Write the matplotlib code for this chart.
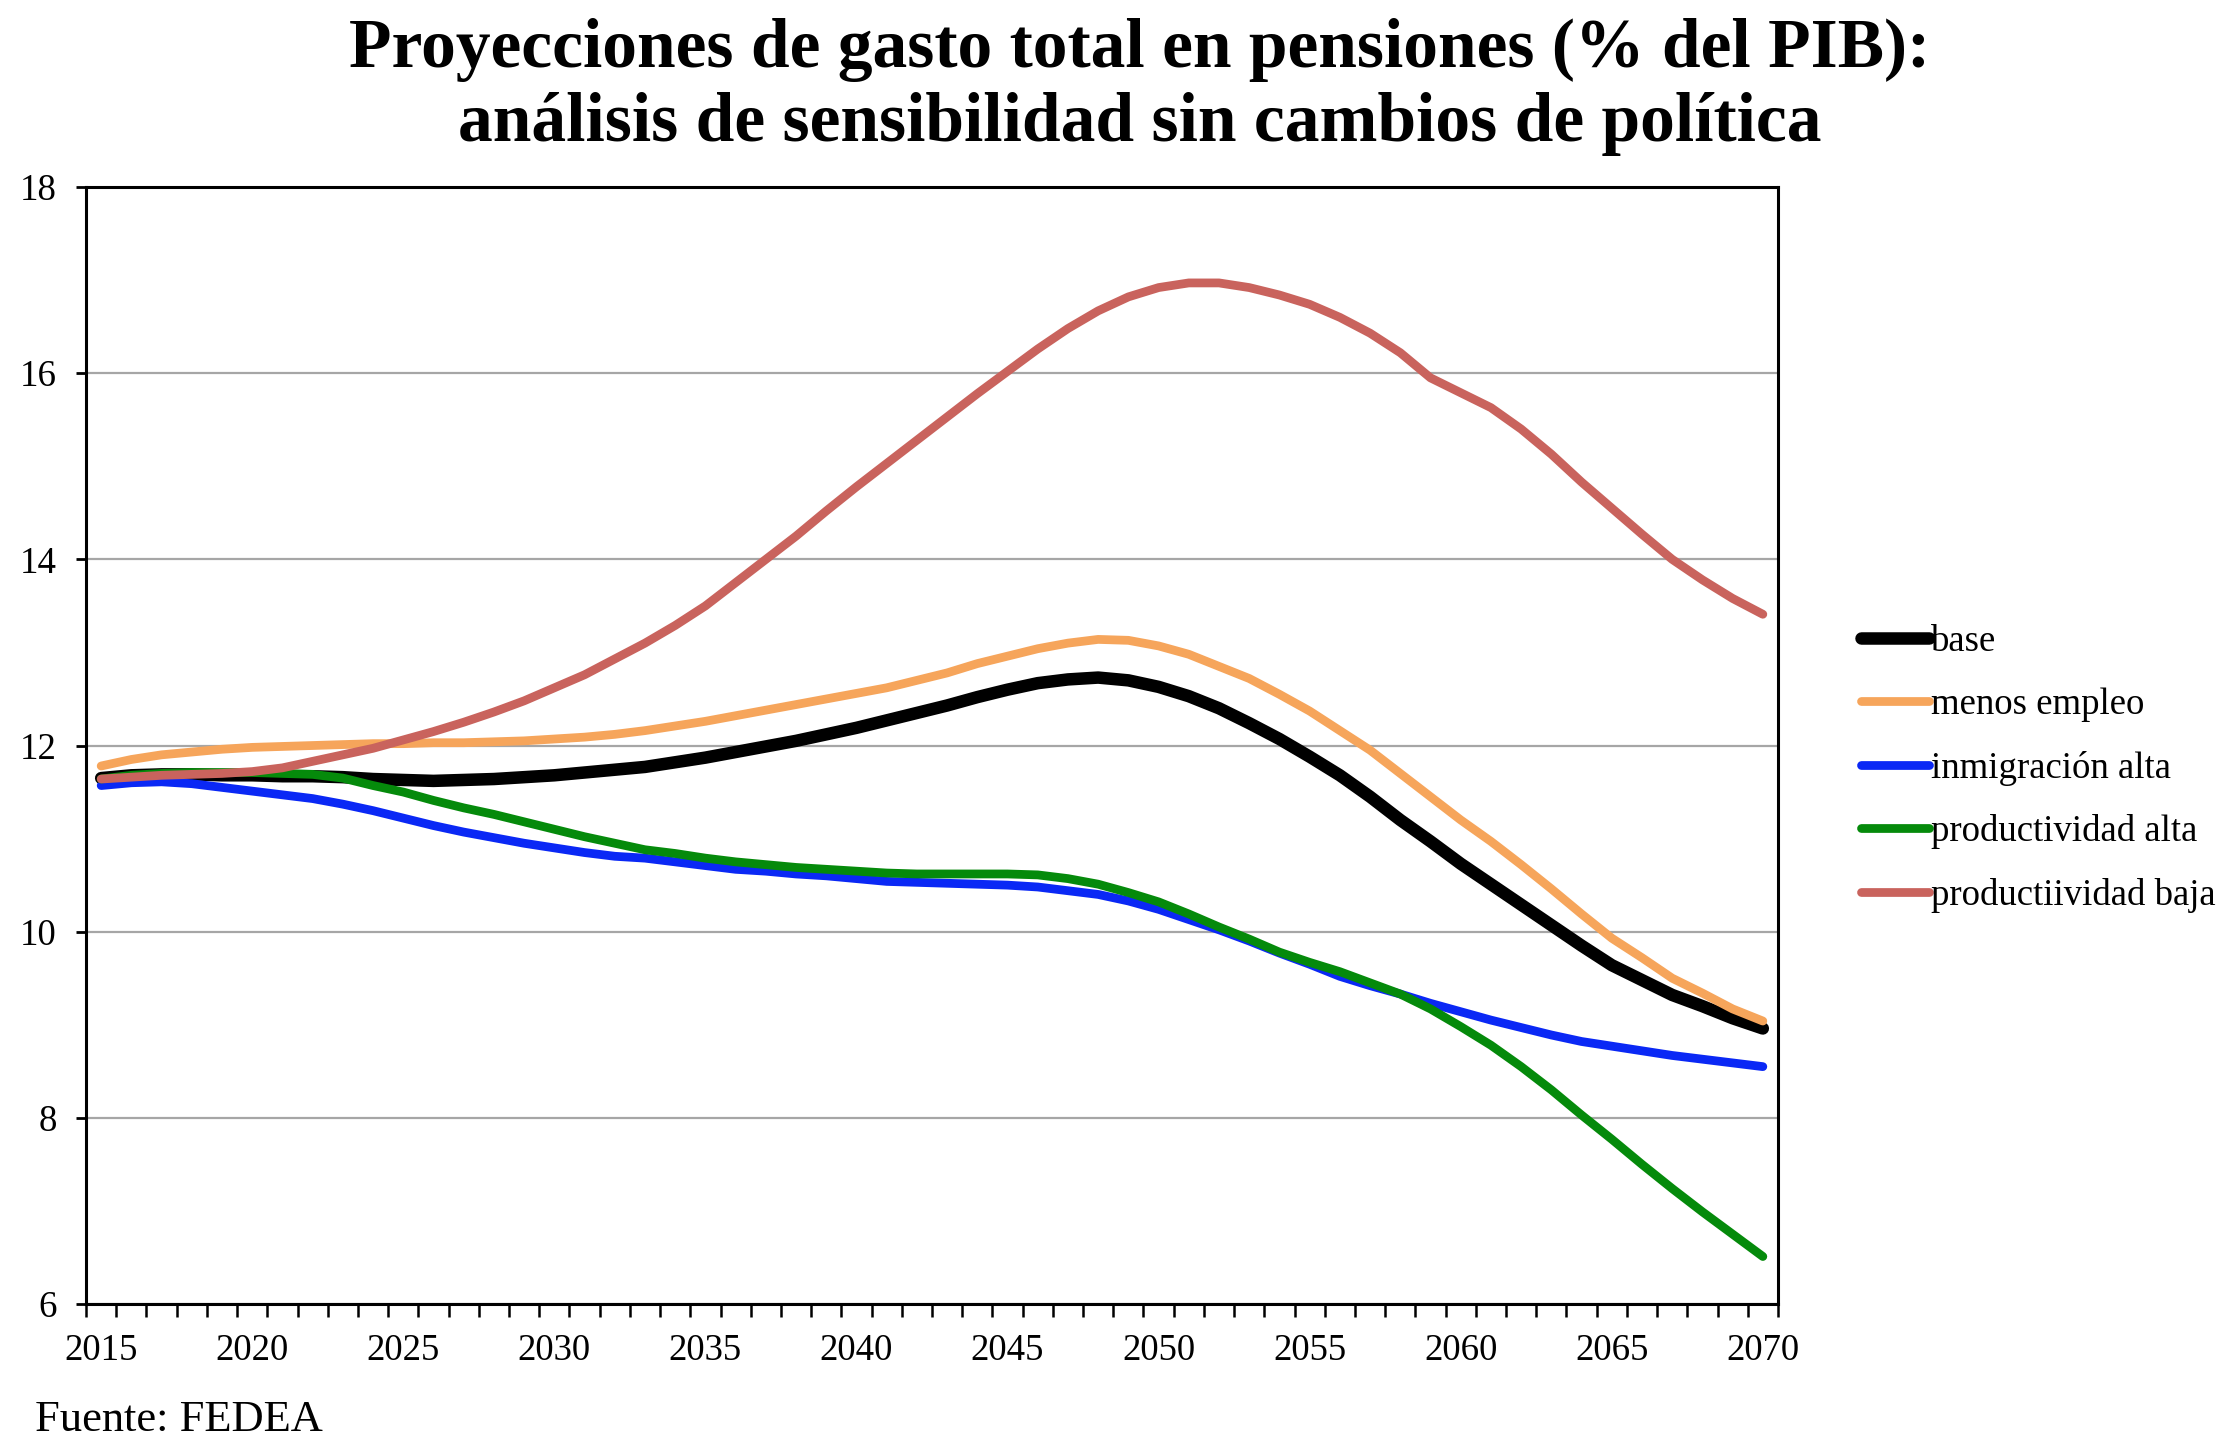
import numpy as np
import matplotlib
matplotlib.use('Agg')
import matplotlib.pyplot as plt

years = list(range(2015, 2071))

base = [11.65, 11.68, 11.69, 11.69, 11.68, 11.68, 11.67, 11.67, 11.66, 11.64,
        11.63, 11.62, 11.63, 11.64, 11.66, 11.68, 11.71, 11.74, 11.77, 11.82,
        11.87, 11.93, 11.99, 12.05, 12.12, 12.19, 12.27, 12.35, 12.43, 12.52,
        12.60, 12.67, 12.71, 12.73, 12.70, 12.63, 12.53, 12.40, 12.24, 12.07,
        11.88, 11.68, 11.45, 11.20, 10.97, 10.73, 10.51, 10.29, 10.07, 9.85,
        9.64, 9.48, 9.32, 9.20, 9.07, 8.96]

menos_empleo = [11.78, 11.85, 11.90, 11.93, 11.96, 11.98, 11.99, 12.00, 12.01, 12.02,
                12.02, 12.03, 12.03, 12.04, 12.05, 12.07, 12.09, 12.12, 12.16, 12.21,
                12.26, 12.32, 12.38, 12.44, 12.50, 12.56, 12.62, 12.70, 12.78, 12.88,
                12.96, 13.04, 13.10, 13.14, 13.13, 13.07, 12.98, 12.85, 12.72, 12.55,
                12.37, 12.16, 11.95, 11.70, 11.45, 11.20, 10.97, 10.72, 10.46, 10.19,
                9.93, 9.72, 9.50, 9.34, 9.17, 9.04]

inmigracion_alta = [11.57, 11.60, 11.61, 11.59, 11.55, 11.51, 11.47, 11.43, 11.37, 11.30,
                    11.22, 11.14, 11.07, 11.01, 10.95, 10.90, 10.85, 10.81, 10.79, 10.75,
                    10.71, 10.67, 10.65, 10.62, 10.60, 10.57, 10.54, 10.53, 10.52, 10.51,
                    10.50, 10.48, 10.44, 10.40, 10.33, 10.24, 10.13, 10.02, 9.90, 9.77,
                    9.65, 9.52, 9.42, 9.33, 9.23, 9.14, 9.05, 8.97, 8.89, 8.82,
                    8.77, 8.72, 8.67, 8.63, 8.59, 8.55]

productividad_alta = [11.64, 11.68, 11.70, 11.71, 11.71, 11.71, 11.70, 11.69, 11.65, 11.57,
                      11.50, 11.41, 11.33, 11.26, 11.18, 11.10, 11.02, 10.95, 10.88, 10.84,
                      10.79, 10.75, 10.72, 10.69, 10.67, 10.65, 10.63, 10.62, 10.62, 10.62,
                      10.62, 10.61, 10.57, 10.51, 10.42, 10.32, 10.19, 10.05, 9.92, 9.78,
                      9.67, 9.57, 9.45, 9.33, 9.17, 8.98, 8.78, 8.55, 8.30, 8.03,
                      7.77, 7.50, 7.24, 6.99, 6.75, 6.51]

productividad_baja = [11.64, 11.66, 11.68, 11.69, 11.70, 11.72, 11.76, 11.83, 11.90, 11.97,
                      12.06, 12.15, 12.25, 12.36, 12.48, 12.62, 12.76, 12.93, 13.10, 13.29,
                      13.50, 13.75, 14.00, 14.25, 14.52, 14.78, 15.03, 15.28, 15.53, 15.78,
                      16.02, 16.26, 16.48, 16.67, 16.82, 16.92, 16.97, 16.97, 16.92, 16.84,
                      16.74, 16.60, 16.43, 16.22, 15.95, 15.79, 15.63, 15.40, 15.13, 14.83,
                      14.55, 14.27, 14.00, 13.78, 13.58, 13.41]

series = [
    ('base', base, '#000000', 9.0),
    ('menos empleo', menos_empleo, '#F6A55B', 6.3),
    ('inmigración alta', inmigracion_alta, '#0A28F5', 6.3),
    ('productividad alta', productividad_alta, '#058A0B', 6.3),
    ('productiividad baja', productividad_baja, '#C9635D', 6.3),
]

serif = ['Liberation Serif', 'DejaVu Serif']

fig = plt.figure(figsize=(22.18, 14.5), dpi=100)
ax = fig.add_axes([0.0388, 0.1007, 0.7628, 0.7703])

for label, vals, color, lw in series:
    ax.plot(years, vals, color=color, linewidth=lw, label=label,
            solid_capstyle='round', solid_joinstyle='round')

ax.set_xlim(2014.5, 2070.5)
ax.set_ylim(6, 18)
ax.set_yticks(range(6, 19, 2))
ax.set_xticks(range(2015, 2071, 5))
ax.set_xticks(np.arange(2014.5, 2071, 1), minor=True)
ax.tick_params(axis='x', which='major', length=0, pad=21, labelsize=26.5)
ax.tick_params(axis='x', which='minor', length=9, width=1.8, direction='out')
ax.tick_params(axis='y', which='major', length=7, width=2, pad=14, labelsize=26.5)
for lab in ax.get_xticklabels() + ax.get_yticklabels():
    lab.set_family(serif)

ax.yaxis.grid(True, color='#a6a6a6', linewidth=1.6)
ax.set_axisbelow(True)
for sp in ax.spines.values():
    sp.set_linewidth(2.2)
    sp.set_color('black')

leg = fig.legend(loc='center left', bbox_to_anchor=(0.824, 0.47), frameon=False,
                 prop={'family': serif, 'size': 26.5}, handlelength=1.85,
                 handletextpad=0.05, labelspacing=0.78)

fig.text(0.514, 0.954, 'Proyecciones de gasto total en pensiones (% del PIB):',
         ha='center', va='baseline', fontsize=50, fontweight='bold', family=serif)
fig.text(0.514, 0.903, 'análisis de sensibilidad sin cambios de política',
         ha='center', va='baseline', fontsize=50, fontweight='bold', family=serif)
fig.text(0.016, 0.013, 'Fuente: FEDEA', ha='left', va='baseline',
         fontsize=32, family=serif)

fig.savefig('out.png', dpi=100)
